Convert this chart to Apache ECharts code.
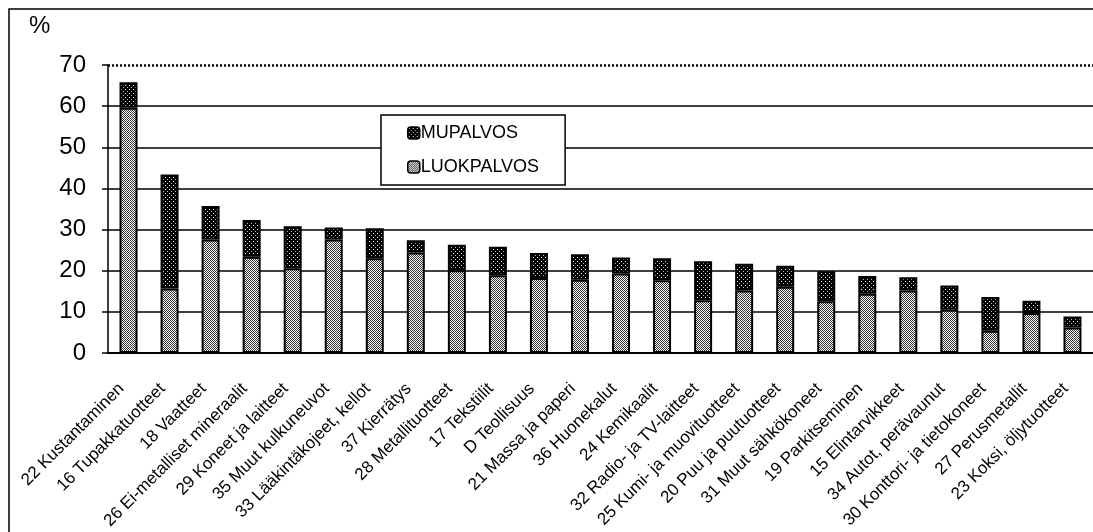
<!DOCTYPE html>
<html>
<head>
<meta charset="utf-8">
<script src="https://cdn.jsdelivr.net/npm/echarts@6/dist/echarts.min.js"></script>
<style>
  html, body { margin: 0; padding: 0; background: #fff; }
  #main { width: 1093px; height: 532px; }
</style>
</head>
<body>
<div id="main"></div>
<script>
// toimialat
var categories = [
  '22 Kustantaminen', '16 Tupakkatuotteet', '18 Vaatteet', '26 Ei-metalliset mineraalit',
  '29 Koneet ja laitteet', '35 Muut kulkuneuvot', '33 Lääkintäkojeet, kellot', '37 Kierrätys',
  '28 Metallituotteet', '17 Tekstiilit', 'D Teollisuus', '21 Massa ja paperi',
  '36 Huonekalut', '24 Kemikaalit', '32 Radio- ja TV-laitteet', '25 Kumi- ja muovituotteet',
  '20 Puu ja puutuotteet', '31 Muut sähkökoneet', '19 Parkitseminen', '15 Elintarvikkeet',
  '34 Autot, perävaunut', '30 Konttori- ja tietokoneet', '27 Perusmetallit', '23 Koksi, öljytuotteet'
];
var luokpalvos = [59.6, 15.7, 27.6, 23.4, 20.6, 27.6, 23.0, 24.4, 20.1, 18.9, 18.2, 17.8,
  19.3, 17.7, 12.8, 15.2, 16.1, 12.6, 14.4, 15.2, 10.5, 5.4, 9.7, 6.2];
var mupalvos = [6.2, 27.7, 8.1, 8.9, 10.2, 2.9, 7.3, 3.0, 6.2, 6.9, 6.1, 6.2,
  3.9, 5.3, 9.5, 6.5, 5.1, 7.3, 4.3, 3.2, 5.9, 8.2, 3.0, 2.7];

// rasterikuviot palkkeihin
function makePattern(dark) {
  var c = document.createElement('canvas');
  c.width = 4; c.height = 4;
  var ctx = c.getContext('2d');
  if (dark) {
    ctx.fillStyle = '#000';
    ctx.fillRect(0, 0, 4, 4);
    ctx.fillStyle = '#fff';
    ctx.fillRect(1, 1, 1, 1);
    ctx.fillStyle = '#bbb';
    ctx.fillRect(3, 3, 1, 1);
  } else {
    for (var x = 0; x < 4; x++) {
      for (var y = 0; y < 4; y++) {
        ctx.fillStyle = (x + y) % 2 ? '#fff' : '#333';
        ctx.fillRect(x, y, 1, 1);
      }
    }
  }
  return { image: c, repeat: 'repeat' };
}

var chart = echarts.init(document.getElementById('main'));
chart.setOption({
  animation: false,
  textStyle: { fontFamily: 'Liberation Sans, Arial, sans-serif', color: '#000' },
  graphic: [
    { type: 'rect', shape: { x: 9, y: 9, width: 1100, height: 540 },
      style: { fill: 'none', stroke: '#000', lineWidth: 1.5 }, z: 100 },
    { type: 'text', left: 29, top: 14,
      style: { text: '%', fontSize: 24, fill: '#000', fontFamily: 'Liberation Sans, Arial, sans-serif' } }
  ],
  legend: {
    orient: 'vertical',
    left: 381, top: 115,
    data: ['MUPALVOS', 'LUOKPALVOS'],
    backgroundColor: '#fff',
    borderColor: '#000', borderWidth: 1.5,
    padding: [9, 26, 9, 26],
    itemWidth: 12, itemHeight: 12, itemGap: 16,
    itemStyle: { borderColor: '#000', borderWidth: 1.5 },
    textStyle: { fontSize: 18, color: '#000', padding: [0, 0, 0, -4] },
    z: 10
  },
  grid: { left: 108, right: 0, top: 65, bottom: 179 },
  xAxis: {
    type: 'category',
    data: categories,
    axisLine: { lineStyle: { color: '#000', width: 2 } },
    axisTick: { length: 5, lineStyle: { color: '#000', width: 1.5 } },
    axisLabel: { rotate: 45, fontSize: 17, color: '#000', margin: 26, padding: [0, 10, 0, 0], interval: 0 }
  },
  yAxis: {
    type: 'value',
    min: 0, max: 70, interval: 10,
    axisLine: { show: true, lineStyle: { color: '#000', width: 1.5 } },
    axisTick: { show: true, length: 6, lineStyle: { color: '#000', width: 1.5 } },
    axisLabel: { fontSize: 24, color: '#000', margin: 22 },
    splitLine: { showMaxLine: false, lineStyle: { color: '#000', width: 1.5 } }
  },
  series: [
    {
      name: 'LUOKPALVOS', type: 'bar', stack: 'tot', barWidth: 18,
      data: luokpalvos,
      itemStyle: { color: makePattern(false), borderColor: '#000', borderWidth: 2 },
      markLine: {
        symbol: 'none', silent: true, label: { show: false },
        lineStyle: { color: '#000', type: [2, 2], width: 2.5 },
        data: [{ yAxis: 70 }]
      }
    },
    {
      name: 'MUPALVOS', type: 'bar', stack: 'tot', barWidth: 18,
      data: mupalvos,
      itemStyle: { color: makePattern(true), borderColor: '#000', borderWidth: 2 }
    }
  ]
});
</script>
</body>
</html>
